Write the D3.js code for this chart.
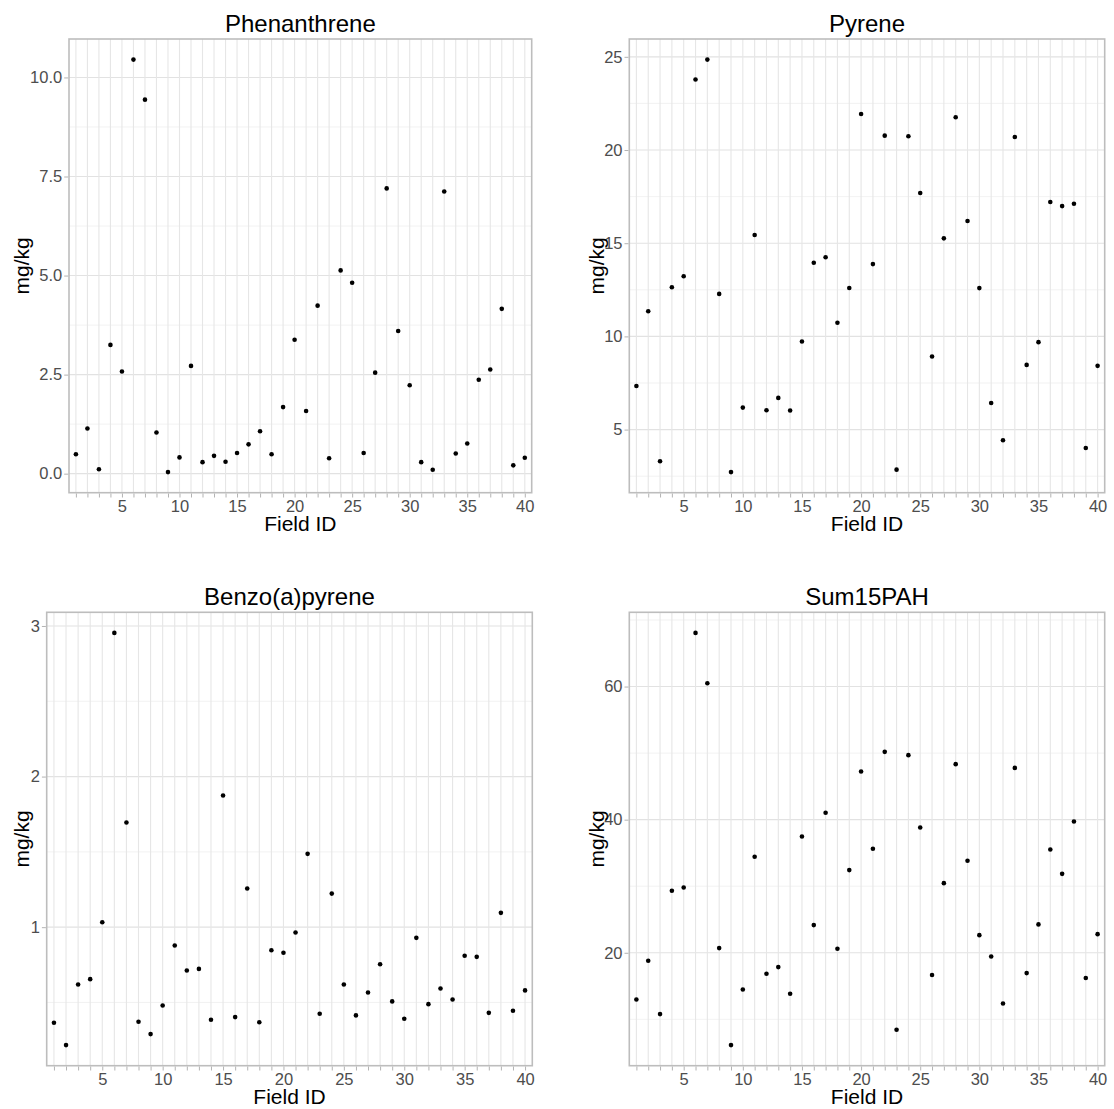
<!DOCTYPE html>
<html>
<head>
<meta charset="utf-8">
<script src="https://cdn.jsdelivr.net/npm/d3@7"></script>
<style>
  html, body { margin: 0; padding: 0; background: #ffffff; }
  svg { display: block; font-family: "Liberation Sans", Arial, Helvetica, sans-serif; }
</style>
</head>
<body>
<script>
// ---------------- data ----------------
const fieldIds = [1,2,3,4,5,6,7,8,9,10,11,12,13,14,15,16,17,18,19,20,
                  21,22,23,24,25,26,27,28,29,30,31,32,33,34,35,36,37,38,39,40];

const phenanthrene = [0.49,1.14,0.11,3.25,2.58,10.45,9.44,1.04,0.04,0.41,
                      2.72,0.29,0.45,0.30,0.52,0.74,1.07,0.49,1.68,3.38,
                      1.58,4.24,0.39,5.13,4.82,0.52,2.55,7.20,3.60,2.23,
                      0.29,0.10,7.12,0.51,0.76,2.37,2.63,4.16,0.21,0.40];

const pyrene = [7.34,11.35,3.30,12.64,13.23,23.78,24.85,12.28,2.72,6.18,
                15.44,6.04,6.70,6.02,9.73,13.95,14.25,10.73,12.60,21.93,
                13.88,20.77,2.85,20.74,17.69,8.92,15.26,21.76,16.19,12.59,
                6.43,4.43,20.70,8.47,9.69,17.21,16.99,17.12,4.01,8.42];

const benzoApyrene = [0.365,0.217,0.619,0.655,1.033,2.954,1.695,0.372,0.290,0.480,
                      0.878,0.712,0.723,0.385,1.874,0.403,1.257,0.369,0.847,0.830,
                      0.965,1.487,0.425,1.223,0.619,0.414,0.566,0.754,0.507,0.392,
                      0.929,0.489,0.593,0.520,0.810,0.803,0.431,1.095,0.445,0.580];

const sum15PAH = [12.99,18.80,10.79,29.31,29.81,68.06,60.50,20.70,6.13,14.49,
                  34.42,16.85,17.85,13.84,37.47,24.16,41.03,20.60,32.42,47.23,
                  35.62,50.19,8.44,49.69,38.82,16.65,30.46,48.34,33.82,22.65,
                  19.45,12.39,47.78,16.95,24.26,35.52,31.86,39.72,16.20,22.80];

const titles = ["Phenanthrene", "Pyrene", "Benzo(a)pyrene", "Sum15PAH"];
const phenTicks = [0, 2.5, 5, 7.5, 10];
const pyreneTicks = [5, 10, 15, 20, 25];
const benzoTicks = [1, 2, 3];
const sumTicks = [20, 40, 60];
const xLabelEvery = 5;
const yAxisTitle = "mg/kg";
const xAxisTitle = "Field ID";

// ---------------- layout ----------------
const W = 1114, H = 1109;
const panels = [
  { title: titles[0], values: phenanthrene, ticks: phenTicks, fmt: d3.format(".1f"),
    box: { l: 69,    t: 39,    r: 531.7,  b: 492.7 },  ylabX: 28.5 },
  { title: titles[1], values: pyrene, ticks: pyreneTicks, fmt: d3.format("d"),
    box: { l: 629.3, t: 39,    r: 1104.7, b: 492.7 },  ylabX: 603.5 },
  { title: titles[2], values: benzoApyrene, ticks: benzoTicks, fmt: d3.format("d"),
    box: { l: 46.7,  t: 612.3, r: 532.3,  b: 1065.7 }, ylabX: 28.5 },
  { title: titles[3], values: sum15PAH, ticks: sumTicks, fmt: d3.format("d"),
    box: { l: 629.3, t: 612.3, r: 1104.7, b: 1065.7 }, ylabX: 603.5 }
];

const svg = d3.select("body").append("svg")
  .attr("width", W).attr("height", H)
  .attr("viewBox", `0 0 ${W} ${H}`);

svg.append("rect").attr("width", W).attr("height", H).attr("fill", "#ffffff");

panels.forEach(p => {
  const { l, t, r, b } = p.box;
  const g = svg.append("g");

  const x = d3.scalePoint().domain(fieldIds).range([l, r]).padding(0.6);
  const [mn, mx] = d3.extent(p.values);
  const pad = (mx - mn) * 0.05;
  const y = d3.scaleLinear().domain([mn - pad, mx + pad]).range([b, t]);

  // minor y grid
  const step = p.ticks[1] - p.ticks[0];
  const minor = [];
  for (let v = p.ticks[0] - step / 2; v <= p.ticks[p.ticks.length - 1] + step / 2 + 1e-9; v += step) {
    if (v >= y.domain()[0] && v <= y.domain()[1]) minor.push(v);
  }
  g.append("g").selectAll("line").data(minor).join("line")
    .attr("x1", l).attr("x2", r)
    .attr("y1", d => y(d)).attr("y2", d => y(d))
    .attr("stroke", "#efefef").attr("stroke-width", 0.8);

  // major y grid
  g.append("g").selectAll("line").data(p.ticks).join("line")
    .attr("x1", l).attr("x2", r)
    .attr("y1", d => y(d)).attr("y2", d => y(d))
    .attr("stroke", "#e2e2e2").attr("stroke-width", 1.1);

  // major x grid
  g.append("g").selectAll("line").data(fieldIds).join("line")
    .attr("x1", d => x(d)).attr("x2", d => x(d))
    .attr("y1", t).attr("y2", b)
    .attr("stroke", "#e6e6e6").attr("stroke-width", 1.1);

  // points
  g.append("g").selectAll("circle").data(p.values).join("circle")
    .attr("cx", (d, i) => x(fieldIds[i]))
    .attr("cy", d => y(d))
    .attr("r", 2.3)
    .attr("fill", "#000000");

  // border
  g.append("rect")
    .attr("x", l).attr("y", t).attr("width", r - l).attr("height", b - t)
    .attr("fill", "none").attr("stroke", "#bdbdbd").attr("stroke-width", 1.6);

  // x axis
  const xa = g.append("g").attr("transform", `translate(0,${b + 0.8})`)
    .call(d3.axisBottom(x).tickSize(4).tickPadding(2.5)
      .tickFormat(d => (d % xLabelEvery === 0 ? d : "")));
  // y axis
  const ya = g.append("g").attr("transform", `translate(${l - 0.8},0)`)
    .call(d3.axisLeft(y).tickValues(p.ticks).tickSize(4).tickPadding(2).tickFormat(p.fmt));

  [xa, ya].forEach(a => {
    a.select(".domain").remove();
    a.selectAll(".tick line").attr("stroke", "#b3b3b3").attr("stroke-width", 1);
    a.selectAll(".tick text")
      .attr("fill", "#4d4d4d")
      .style("font-size", "16.5px");
  });

  // title
  g.append("text")
    .attr("x", (l + r) / 2).attr("y", t - 7.5)
    .attr("text-anchor", "middle")
    .style("font-size", "24px")
    .attr("fill", "#000000")
    .text(p.title);

  // x title
  g.append("text")
    .attr("x", (l + r) / 2).attr("y", b + 38.3)
    .attr("text-anchor", "middle")
    .style("font-size", "21px")
    .attr("fill", "#000000")
    .text(xAxisTitle);

  // y title
  g.append("text")
    .attr("transform", `translate(${p.ylabX},${(t + b) / 2}) rotate(-90)`)
    .attr("text-anchor", "middle")
    .style("font-size", "21px")
    .attr("fill", "#000000")
    .text(yAxisTitle);
});
</script>
</body>
</html>
